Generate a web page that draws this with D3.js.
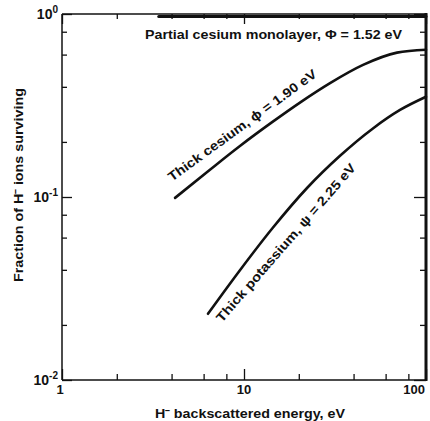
<!DOCTYPE html>
<html><head><meta charset="utf-8">
<script src="https://cdn.jsdelivr.net/npm/d3@7"></script>
<style>
html,body{margin:0;padding:0;background:#fff;}
svg{display:block;}
text{font-family:"Liberation Sans",Arial,Helvetica,sans-serif;font-weight:bold;fill:#111;}
</style></head>
<body>
<svg id="chart" width="430" height="421"></svg>
<script>
// ---- data ----
const energyMono = [3.4, 100];
const fracMono   = [0.97, 0.97];
const energyCs = [4.18, 6.5, 9.5, 14.4, 20.3, 29.7, 45.1, 69.3, 100];
const fracCs   = [0.0989, 0.141, 0.190, 0.258, 0.328, 0.419, 0.527, 0.615, 0.638];
const energyK  = [6.34, 9.5, 14.4, 22.2, 33.7, 51.1, 72.0, 100];
const fracK    = [0.0230, 0.0398, 0.0679, 0.112, 0.168, 0.237, 0.299, 0.353];

const xMajor = [1, 10, 100];
const xMajorLabels = ["1", "10", "100"];
const xMinor = [2, 4, 6, 8, 20, 40, 60, 80];
const yMajor = [1, 0.1, 0.01];
const yMajorExp = ["0", "-1", "-2"];
const yMinor = [0.02, 0.04, 0.06, 0.08, 0.2, 0.4, 0.6, 0.8];

const seriesLabels = [
  {text: "Partial cesium monolayer, \u03A6 = 1.52 eV", e: 2.86, f: 0.73, angle: 0, len: 257},
  {text: "Thick cesium, \u03D5 = 1.90 eV", e: 4.02, f: 0.121, angle: -36, len: 180},
  {text: "Thick potassium, \u03C8 = 2.25 eV", e: 7.57, f: 0.0205, angle: -49, len: 205}
];
const xTitle = "H\u207B backscattered energy, eV";
const yTitle = "Fraction of H\u207B ions surviving";

// ---- layout ----
const L = 62, R = 426, T = 14, B = 380;
const svg = d3.select("#chart");
const x = d3.scaleLog().domain([1, 100]).range([L, R]);
const y = d3.scaleLog().domain([0.01, 1]).range([B, T]);

// frame
const frame = svg.append("g").attr("stroke", "#111").attr("fill", "none");
frame.append("line").attr("x1", L).attr("x2", L).attr("y1", T).attr("y2", B).attr("stroke-width", 1.5);
frame.append("line").attr("x1", L).attr("x2", R).attr("y1", B).attr("y2", B).attr("stroke-width", 1.5);
frame.append("line").attr("x1", L).attr("x2", R).attr("y1", T).attr("y2", T).attr("stroke-width", 1.5);
frame.append("line").attr("x1", R).attr("x2", R).attr("y1", T - 1).attr("y2", B + 1).attr("stroke-width", 3);

function styleAxis(g) {
  g.select(".domain").remove();
  g.selectAll(".tick line").attr("stroke", "#111").attr("stroke-width", 1.3);
  g.selectAll(".tick text").remove();
}
// ticks, pointing inward on all four sides
svg.append("g").attr("transform", `translate(0,${B})`)
  .call(d3.axisBottom(x).tickValues(xMajor).tickSize(-11).tickFormat("")).call(styleAxis);
svg.append("g").attr("transform", `translate(0,${B})`)
  .call(d3.axisBottom(x).tickValues(xMinor).tickSize(-6).tickFormat("")).call(styleAxis);
svg.append("g").attr("transform", `translate(0,${T})`)
  .call(d3.axisTop(x).tickValues(xMajor).tickSize(-10).tickFormat("")).call(styleAxis);
svg.append("g").attr("transform", `translate(0,${T})`)
  .call(d3.axisTop(x).tickValues(xMinor).tickSize(-5).tickFormat("")).call(styleAxis);
svg.append("g").attr("transform", `translate(${L},0)`)
  .call(d3.axisLeft(y).tickValues(yMajor).tickSize(-10).tickFormat("")).call(styleAxis);
svg.append("g").attr("transform", `translate(${L},0)`)
  .call(d3.axisLeft(y).tickValues(yMinor).tickSize(-5).tickFormat("")).call(styleAxis);
svg.append("g").attr("transform", `translate(${R},0)`)
  .call(d3.axisRight(y).tickValues(yMajor).tickSize(-12).tickFormat("")).call(styleAxis);
svg.append("g").attr("transform", `translate(${R},0)`)
  .call(d3.axisRight(y).tickValues(yMinor).tickSize(-6).tickFormat("")).call(styleAxis);

// x tick labels
svg.append("g").selectAll("text").data(xMajor).join("text")
  .attr("x", (d, i) => i === xMajor.length - 1 ? x(d) - 1 : x(d) - (i === 0 ? 2 : 0))
  .attr("y", B + 14)
  .attr("text-anchor", (d, i) => i === xMajor.length - 1 ? "end" : "middle")
  .attr("font-size", 13)
  .text((d, i) => xMajorLabels[i]);

// y tick labels (10^n)
const yl = svg.append("g").selectAll("text").data(yMajor).join("text")
  .attr("x", L - 4).attr("y", d => y(d) + 5)
  .attr("text-anchor", "end").attr("font-size", 14);
yl.append("tspan").text("10");
yl.append("tspan").attr("dy", -6).attr("font-size", 10).text((d, i) => yMajorExp[i]);

// curves
const line = d3.line().x(d => x(d[0])).y(d => y(d[1])).curve(d3.curveMonotoneX);
const series = [
  {e: energyMono, f: fracMono, w: 3},
  {e: energyCs, f: fracCs, w: 2.6},
  {e: energyK, f: fracK, w: 2.6}
];
svg.append("g").selectAll("path").data(series).join("path")
  .attr("d", s => line(s.e.map((v, i) => [v, s.f[i]])))
  .attr("fill", "none").attr("stroke", "#111")
  .attr("stroke-width", s => s.w).attr("stroke-linecap", "round");

// series labels
svg.append("g").selectAll("text").data(seriesLabels).join("text")
  .attr("transform", d => `translate(${x(d.e)},${y(d.f)}) rotate(${d.angle})`)
  .attr("font-size", 13)
  .attr("textLength", d => d.len).attr("lengthAdjust", "spacingAndGlyphs")
  .text(d => d.text);

// axis titles
svg.append("text").attr("x", 250).attr("y", 418).attr("text-anchor", "middle")
  .attr("font-size", 12.5).attr("textLength", 190).attr("lengthAdjust", "spacingAndGlyphs")
  .text(xTitle);
svg.append("text").attr("transform", "translate(23,185) rotate(-90)").attr("text-anchor", "middle")
  .attr("font-size", 12.5).attr("textLength", 194).attr("lengthAdjust", "spacingAndGlyphs")
  .text(yTitle);
</script>
</body></html>
